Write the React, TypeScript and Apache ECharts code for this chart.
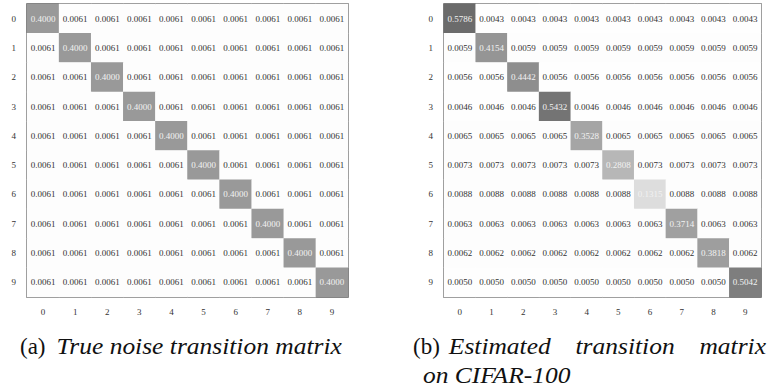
import React, { useEffect, useRef } from "react";
import * as echarts from "echarts";

const classes = ["0", "1", "2", "3", "4", "5", "6", "7", "8", "9"];
// (a) true noise transition matrix: diagonal and off-diagonal values per row
const trueDiag = [0.4, 0.4, 0.4, 0.4, 0.4, 0.4, 0.4, 0.4, 0.4, 0.4];
const trueOff = [0.0061, 0.0061, 0.0061, 0.0061, 0.0061, 0.0061, 0.0061, 0.0061, 0.0061, 0.0061];
// (b) estimated transition matrix on CIFAR-100
const estDiag = [0.5786, 0.4154, 0.4442, 0.5432, 0.3528, 0.2808, 0.1315, 0.3714, 0.3818, 0.5042];
const estOff = [0.0043, 0.0059, 0.0056, 0.0046, 0.0065, 0.0073, 0.0088, 0.0063, 0.0062, 0.0050];

const captionA = ["(a)", "True noise transition matrix"];
const captionB = ["(b)", "Estimated", "transition", "matrix"];
const captionB2 = "on CIFAR-100";

function buildCells(diag: number[], off: number[]) {
  const out: any[] = [];
  for (let r = 0; r < classes.length; r++) {
    for (let c = 0; c < classes.length; c++) {
      const v = r === c ? diag[r] : off[r];
      out.push({
        value: [c, r, v],
        label: { color: v > 0.1 ? "#f2f2f2" : "#333333" },
      });
    }
  }
  return out;
}

const LABEL_FONT = "'Liberation Serif', 'DejaVu Serif', serif";
const CAP_FAMILY = "'Liberation Serif'";
const CAP_SIZE = 23;

function axes(gridIndex: number) {
  return {
    x: {
      type: "category",
      gridIndex,
      data: classes,
      axisLine: { show: false },
      axisTick: { show: false },
      splitLine: { show: false },
      axisLabel: { fontSize: 9, color: "#333", fontFamily: LABEL_FONT, margin: 10 },
    },
    y: {
      type: "category",
      gridIndex,
      data: classes,
      inverse: true,
      axisLine: { show: false },
      axisTick: { show: false },
      splitLine: { show: false },
      axisLabel: { fontSize: 9, color: "#333", fontFamily: LABEL_FONT, margin: 11 },
    },
  };
}

export default function App() {
  const ref = useRef<HTMLDivElement>(null);
  useEffect(() => {
    if (!ref.current) return;
    const chart = echarts.init(ref.current, undefined, { renderer: "svg" });

    const cv = document.createElement("canvas");
    const ctx = cv.getContext("2d")!;
    const measure = (t: string, italic: boolean) => {
      ctx.font = `${italic ? "italic " : ""}${CAP_SIZE}px ${CAP_FAMILY}, serif`;
      return ctx.measureText(t).width;
    };
    const capText = (t: string, x: number, y: number, italic: boolean, sx = 1) => ({
      type: "text",
      x,
      y,
      scaleX: sx,
      silent: true,
      style: {
        text: t,
        fontSize: CAP_SIZE,
        fontStyle: italic ? "italic" : "normal",
        fontFamily: CAP_FAMILY + ", serif",
        fill: "#111",
        align: "left",
        verticalAlign: "middle",
      },
    });

    // caption (a)
    const yA = 346;
    const aStart = 20;
    const wa = measure(captionA[0], false);
    const gap = 11;
    const aItalStart = aStart + wa + gap;
    const aItalEnd = 342;
    const sx = (aItalEnd - aItalStart) / measure(captionA[1], true);
    // caption (b), justified line
    const bStart = 413;
    const wb = measure(captionB[0], false);
    const bEnd = 766;
    const w1 = measure(captionB[1], true) * sx;
    const w2 = measure(captionB[2], true) * sx;
    const w3 = measure(captionB[3], true) * sx;
    const b1 = bStart + wb + 9;
    const free = bEnd - b1 - w1 - w2 - w3;
    const g = Math.max(free / 2, 6);
    const b2 = b1 + w1 + g;
    const b3 = b2 + w2 + g;

    const a0 = axes(0);
    const a1 = axes(1);
    const seriesCommon = {
      type: "heatmap",
      label: {
        show: true,
        fontSize: 9,
        fontFamily: LABEL_FONT,
        formatter: (p: any) => p.value[2].toFixed(4),
      },
      itemStyle: { borderWidth: 0 },
      emphasis: { disabled: true },
    };
    chart.setOption({
      animation: false,
      backgroundColor: "#ffffff",
      grid: [
        { left: 27, top: 4, width: 321, height: 293, show: true, borderColor: "#555", borderWidth: 1.5, backgroundColor: "transparent" },
        { left: 444, top: 4, width: 317, height: 293, show: true, borderColor: "#555", borderWidth: 1.5, backgroundColor: "transparent" },
      ],
      xAxis: [a0.x, a1.x],
      yAxis: [a0.y, a1.y],
      visualMap: {
        show: false,
        min: 0,
        max: 1,
        dimension: 2,
        seriesIndex: [0, 1],
        inRange: { color: ["#ffffff", "#000000"] },
      },
      series: [
        { ...seriesCommon, xAxisIndex: 0, yAxisIndex: 0, data: buildCells(trueDiag, trueOff), z: 1 },
        { ...seriesCommon, xAxisIndex: 1, yAxisIndex: 1, data: buildCells(estDiag, estOff), z: 1 },
      ],
      graphic: [
        capText(captionA[0], aStart, yA, false),
        capText(captionA[1], aItalStart, yA, true, sx),
        capText(captionB[0], bStart, yA, false),
        capText(captionB[1], b1, yA, true, sx),
        capText(captionB[2], b2, yA, true, sx),
        capText(captionB[3], b3, yA, true, sx),
        capText(captionB2, 423, 375, true, sx),
      ],
    });
    return () => chart.dispose();
  }, []);
  return (
    <div
      ref={ref}
      style={{ position: "absolute", left: 0, top: 0, width: 771, height: 389 }}
    />
  );
}
